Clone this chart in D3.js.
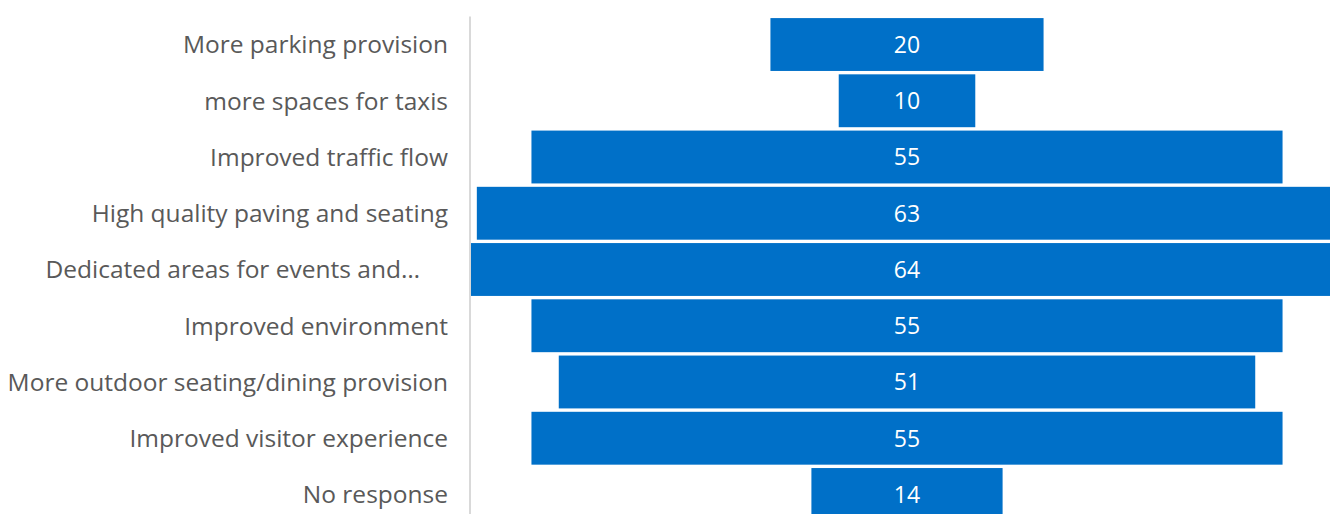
<!DOCTYPE html>
<html>
<head>
<meta charset="utf-8">
<script src="https://cdn.jsdelivr.net/npm/d3@7"></script>
<style>
  body { margin: 0; background: #fff; }
  svg { display: block; }
</style>
</head>
<body>
<div id="chart"></div>
<script>
const categories = [
    "More parking provision",
    "more spaces for taxis",
    "Improved traffic flow",
    "High quality paving and seating",
    "Dedicated areas for events and…",
    "Improved environment",
    "More outdoor seating/dining provision",
    "Improved visitor experience",
    "No response"
];
const values = [20, 10, 55, 63, 64, 55, 51, 55, 14];

const width = 1330, height = 514;
const axisX = 470;

const svg = d3.select("#chart")
    .append("svg")
    .attr("width", width)
    .attr("height", height);

// funnel: bars centred on 0
const x = d3.scaleLinear()
    .domain([-32, 32])
    .range([axisX, 1344]);

const y = d3.scaleBand()
    .domain(categories)
    .range([16.4, 522.6])
    .paddingInner(0.06)
    .paddingOuter(0.03);

const data = categories.map((c, i) => ({ cat: c, value: values[i] }));

// bars
svg.append("g")
    .selectAll("rect")
    .data(data)
    .enter()
    .append("rect")
    .attr("x", d => x(-d.value / 2))
    .attr("y", d => y(d.cat))
    .attr("width", d => x(d.value / 2) - x(-d.value / 2))
    .attr("height", y.bandwidth())
    .attr("fill", "#0070C8");

// value labels
svg.append("g")
    .selectAll("text")
    .data(data)
    .enter()
    .append("text")
    .attr("x", x(0))
    .attr("y", d => y(d.cat) + y.bandwidth() / 2)
    .attr("dy", "0.36em")
    .attr("text-anchor", "middle")
    .attr("font-family", "'Open Sans', sans-serif")
    .attr("font-size", 23)
    .attr("fill", "#fff")
    .text(d => d.value);

// category axis line
svg.append("line")
    .attr("x1", axisX)
    .attr("x2", axisX)
    .attr("y1", y.range()[0])
    .attr("y2", height)
    .attr("stroke", "#d9d9d9")
    .attr("stroke-width", 2);

// category labels
svg.append("g")
    .selectAll("text")
    .data(data)
    .enter()
    .append("text")
    .attr("x", d => d.cat.endsWith("…") ? axisX - 50 : axisX - 22)
    .attr("y", d => y(d.cat) + y.bandwidth() / 2)
    .attr("dy", "0.36em")
    .attr("text-anchor", "end")
    .attr("font-family", "'Open Sans', sans-serif")
    .attr("font-size", 24.5)
    .attr("fill", "#595959")
    .text(d => d.cat);
</script>
</body>
</html>
